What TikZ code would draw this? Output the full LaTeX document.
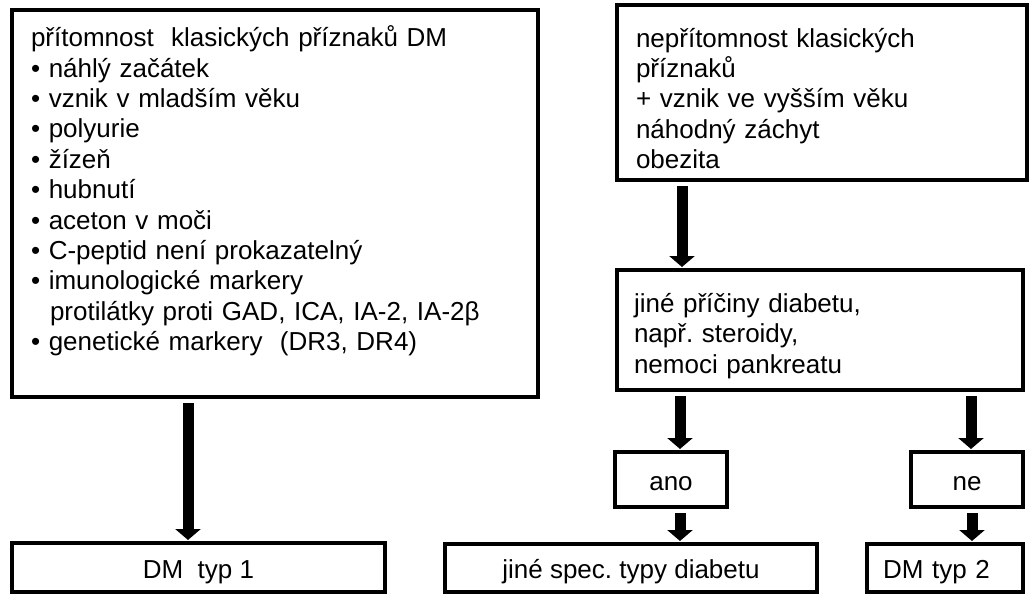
\documentclass[tikz,border=0pt]{standalone}
\usepackage{fontspec}
\setmainfont{Liberation Sans}
\usetikzlibrary{arrows.meta}
\frenchspacing

\begin{document}
\begin{tikzpicture}[
    x=1pt, y=-1pt,
    block/.style={rectangle, draw, line width=3.5pt, outer sep=0pt, inner ysep=0pt, font=\fontsize{26}{30.4}\selectfont},
    textblock/.style={block, align=left, text width=#1},
    smallblock/.style={block, text height=25pt, text depth=4pt, align=center},
    arrow/.style={-{Triangle[width=25pt, length=11pt]}, line width=11pt, shorten <=6pt, shorten >=3pt},
]
    \useasboundingbox (0,0) rectangle (1029,594);

    % Left branch
    \node[textblock=488pt, inner xsep=19pt, minimum width=526pt, minimum height=387pt] (pritomnost) at (275,203.5)
        {přítomnost\ \ klasických příznaků DM\\
         • náhlý začátek\\
         • vznik v mladším věku\\
         • polyurie\\
         • žízeň\\
         • hubnutí\\
         • aceton v moči\\
         • C-peptid není prokazatelný\\
         • imunologické markery\\
         \hspace*{19pt}protilátky proti GAD, ICA, IA-2, IA-2β\\
         • genetické markery\ \ (DR3, DR4)\\
         \mbox{}};
    \node[smallblock, minimum width=373pt, minimum height=49pt] (dmtyp1) at (198.5,567.5) {DM\ \ typ 1};

    \draw[arrow] (pritomnost.south -| 188,0) -- (dmtyp1.north -| 188,0);

    % Right branch
    \node[textblock=372pt, inner xsep=19pt, minimum width=410pt, minimum height=175pt] (nepritomnost) at (822,92.5)
        {\rule{0pt}{31pt}nepřítomnost klasických\\
         příznaků\\
         + vznik ve vyšším věku\\
         náhodný záchyt\\
         obezita};
    \node[textblock=372pt, inner xsep=17pt, minimum width=406pt, minimum height=120pt] (jinepriciny) at (820,330)
        {\rule{0pt}{31pt}jiné příčiny diabetu,\\
         např. steroidy,\\
         nemoci pankreatu};
    \node[smallblock, minimum width=112pt, minimum height=55pt] (ano) at (671,479.5) {ano};
    \node[smallblock, minimum width=112pt, minimum height=55pt] (ne) at (967,479.5) {ne};
    \node[smallblock, minimum width=372pt, minimum height=48pt] (jinetypy) at (631,568) {jiné spec. typy diabetu};
    \node[smallblock, align=left, text width=124pt, inner xsep=16pt, minimum width=156pt, minimum height=48pt] (dmtyp2) at (945,568) {DM typ 2};

    \draw[arrow] (nepritomnost.south -| 682,0) -- (jinepriciny.north -| 682,0);
    \draw[arrow] (jinepriciny.south -| 680,0) -- (ano.north -| 680,0);
    \draw[arrow] (jinepriciny.south -| 971,0) -- (ne.north -| 971,0);
    \draw[arrow] (ano.south -| 680,0) -- (jinetypy.north -| 680,0);
    \draw[arrow] (ne.south -| 972,0) -- (dmtyp2.north -| 972,0);
\end{tikzpicture}
\end{document}
